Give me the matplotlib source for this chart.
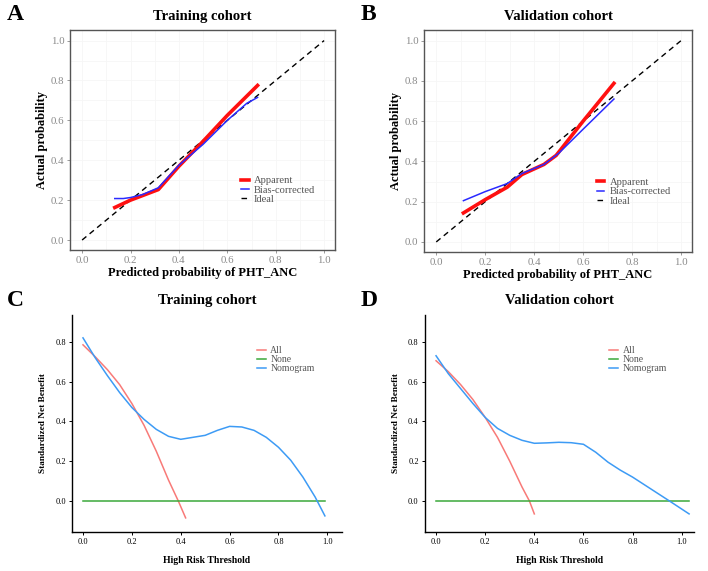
import matplotlib
matplotlib.use('Agg')
import matplotlib.pyplot as plt
import numpy as np

plt.rcParams['font.family'] = ['Liberation Serif', 'DejaVu Serif']

# calibration curves (A: training, B: validation)
cal_a_x = [0.135, 0.2, 0.315, 0.4, 0.5, 0.6, 0.725]
cal_a_apparent = [0.163, 0.2, 0.253, 0.37, 0.495, 0.625, 0.775]
cal_a_bias_x = [0.135, 0.17, 0.2, 0.25, 0.315, 0.4, 0.5, 0.6, 0.68, 0.725]
cal_a_bias = [0.208, 0.208, 0.213, 0.228, 0.262, 0.375, 0.48, 0.6, 0.685, 0.715]

cal_b_x = [0.111, 0.2, 0.29, 0.35, 0.44, 0.49, 0.6, 0.726]
cal_b_apparent = [0.144, 0.21, 0.272, 0.335, 0.385, 0.43, 0.6, 0.788]
cal_b_bias_x = [0.111, 0.2, 0.29, 0.35, 0.44, 0.5, 0.6, 0.726]
cal_b_bias = [0.205, 0.25, 0.29, 0.34, 0.385, 0.44, 0.56, 0.71]

# decision curves (C: training, D: validation)
dca_c_all_x = [0.0, 0.05, 0.1, 0.15, 0.2, 0.25, 0.3, 0.35, 0.39, 0.42]
dca_c_all = [0.785, 0.725, 0.66, 0.585, 0.49, 0.38, 0.25, 0.105, 0.0, -0.085]
dca_c_nom_x = [0.0, 0.05, 0.1, 0.15, 0.2, 0.25, 0.3, 0.35, 0.4, 0.45, 0.5, 0.55,
               0.6, 0.65, 0.7, 0.75, 0.8, 0.85, 0.9, 0.95, 0.99]
dca_c_nom = [0.82, 0.72, 0.63, 0.545, 0.47, 0.41, 0.36, 0.325, 0.31, 0.32, 0.33,
             0.355, 0.375, 0.372, 0.355, 0.32, 0.27, 0.205, 0.12, 0.02, -0.075]
dca_c_none_x = [0.0, 0.99]

dca_d_all_x = [0.0, 0.05, 0.1, 0.15, 0.2, 0.25, 0.3, 0.35, 0.38, 0.40]
dca_d_all = [0.705, 0.65, 0.585, 0.51, 0.42, 0.32, 0.2, 0.07, 0.0, -0.065]
dca_d_nom_x = [0.0, 0.05, 0.1, 0.15, 0.2, 0.25, 0.3, 0.35, 0.4, 0.45, 0.5, 0.55,
               0.6, 0.65, 0.7, 0.75, 0.8, 0.85, 0.9, 0.95, 1.03]
dca_d_nom = [0.73, 0.64, 0.565, 0.49, 0.42, 0.365, 0.33, 0.305, 0.29, 0.292, 0.295,
             0.293, 0.285, 0.245, 0.195, 0.155, 0.12, 0.08, 0.04, 0.0, -0.065]
dca_d_none_x = [0.0, 1.03]

ticks = [0.0, 0.2, 0.4, 0.6, 0.8, 1.0]
yticks_dca = [0.0, 0.2, 0.4, 0.6, 0.8]

W, H = 708, 571
fig = plt.figure(figsize=(W / 100, H / 100), dpi=100)


def box(l, t, r, b):
    return [l / W, 1 - b / H, (r - l) / W, (b - t) / H]


def calib(ax, x, app, bx, bias, title):
    ax.plot([0, 1], [0, 1], color='black', lw=1, ls=(0, (4, 3)), label='Ideal', zorder=2)
    ax.plot(x, app, color='#ff1010', lw=2.6, label='Apparent', zorder=3)
    ax.plot(bx, bias, color='#2a2aff', lw=1.1, label='Bias-corrected', zorder=4)
    ax.set_xlim(-0.05, 1.045)
    ax.set_ylim(-0.05, 1.053)
    ax.set_xticks(ticks)
    ax.set_yticks(ticks)
    ax.set_xticks(np.arange(0.1, 1.0, 0.2), minor=True)
    ax.set_yticks(np.arange(0.1, 1.0, 0.2), minor=True)
    ax.grid(which='both', color='#f6f6f6', lw=0.6)
    ax.tick_params(which='major', labelsize=7.8, labelcolor='#8a8a8a', color='#8a8a8a',
                   length=2, width=0.6, pad=2)
    ax.tick_params(which='minor', length=0)
    for s in ax.spines.values():
        s.set_color('#555555')
        s.set_linewidth(1.0)
    ax.set_xlabel('Predicted probability of PHT_ANC', fontsize=9, fontweight='bold', labelpad=2)
    ax.set_ylabel('Actual probability', fontsize=9, fontweight='bold', labelpad=2)
    ax.set_title(title, fontsize=10.5, fontweight='bold', pad=7)
    h, l = ax.get_legend_handles_labels()
    order = [1, 2, 0]
    leg = ax.legend([h[i] for i in order], [l[i] for i in order], loc='lower left',
                    bbox_to_anchor=(0.63, 0.19), frameon=False, fontsize=7.6,
                    handlelength=0.7, handletextpad=0.5, labelspacing=0.0,
                    borderaxespad=0)
    for t in leg.get_texts():
        t.set_color('#555555')


def dca(ax, ax_x, all_y, nx, ny, none_x, title, xmax):
    ax.plot(ax_x, all_y, color='#f87a78', lw=1.1, label='All')
    ax.plot(none_x, [0, 0], color='#3aa83a', lw=1.1, label='None')
    ax.plot(nx, ny, color='#3d9bf5', lw=1.1, label='Nomogram')
    ax.set_xlim(-0.045, xmax)
    ax.set_ylim(-0.156, 0.935)
    ax.set_xticks(ticks)
    ax.set_yticks(yticks_dca)
    for s in ['top', 'right']:
        ax.spines[s].set_visible(False)
    for s in ['left', 'bottom']:
        ax.spines[s].set_linewidth(1.0)
    ax.tick_params(labelsize=6, length=2.5, width=0.7, pad=2)
    ax.set_xlabel('High Risk Threshold', fontsize=7, fontweight='bold', labelpad=7)
    ax.set_ylabel('Standardized Net Benefit', fontsize=6.7, fontweight='bold', labelpad=6)
    ax.set_title(title, fontsize=10.5, fontweight='bold', pad=8)
    ax.legend(loc='upper left', bbox_to_anchor=(0.67, 0.875), frameon=False, fontsize=7,
              handlelength=0.9, handletextpad=0.5, labelspacing=0.0, borderaxespad=0,
              labelcolor='#555555')


ax_a = fig.add_axes(box(70, 30, 335, 250))
calib(ax_a, cal_a_x, cal_a_apparent, cal_a_bias_x, cal_a_bias, 'Training cohort')
ax_b = fig.add_axes(box(424, 30, 692, 252))
calib(ax_b, cal_b_x, cal_b_apparent, cal_b_bias_x, cal_b_bias, 'Validation cohort')
ax_c = fig.add_axes(box(72, 315, 342, 532))
dca(ax_c, dca_c_all_x, dca_c_all, dca_c_nom_x, dca_c_nom, dca_c_none_x, 'Training cohort', 1.06)
ax_d = fig.add_axes(box(425, 315, 694, 532))
dca(ax_d, dca_d_all_x, dca_d_all, dca_d_nom_x, dca_d_nom, dca_d_none_x, 'Validation cohort', 1.05)

for lab, x, y in [('A', 7, 15), ('B', 361, 15), ('C', 7, 301), ('D', 361, 301)]:
    fig.text(x / W, 1 - y / H, lab, fontsize=17, fontweight='bold', va='center', ha='left')

fig.savefig('out.png', dpi=100)
